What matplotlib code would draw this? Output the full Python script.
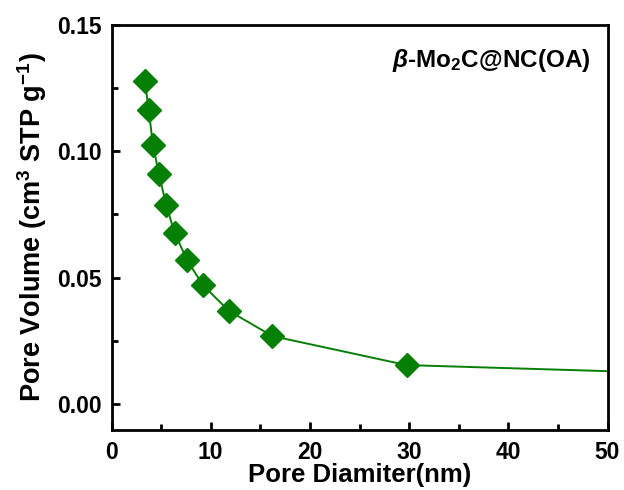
import numpy as np
import matplotlib
matplotlib.use("Agg")
import matplotlib.pyplot as plt
from matplotlib.ticker import MultipleLocator, FormatStrFormatter

plt.rcParams['font.family'] = ['Liberation Sans', 'DejaVu Sans']
plt.rcParams['font.weight'] = 'bold'
plt.rcParams['mathtext.fontset'] = 'custom'
plt.rcParams['mathtext.rm'] = 'Liberation Sans:bold'
plt.rcParams['mathtext.it'] = 'Liberation Sans:bold:italic'
plt.rcParams['mathtext.bf'] = 'Liberation Sans:bold'

# pore size distribution
diameter = [3.36, 3.76, 4.17, 4.78, 5.51, 6.35, 7.63, 9.21, 11.83, 16.2, 29.74, 50.0]
volume = [0.1277, 0.1162, 0.1027, 0.0909, 0.0789, 0.0678, 0.0569, 0.0470, 0.0369, 0.0269, 0.0154, 0.0130]
n_markers = 11

green = '#058005'

fig = plt.figure(figsize=(6.24, 4.9), dpi=100)
ax = fig.add_axes([0.1787, 0.1224, 0.7949, 0.8266])

ax.plot(diameter, volume, '-', color=green, lw=1.4, marker='D', ms=12,
        markevery=list(range(n_markers)), mfc=green, mec=green, clip_on=False)

ax.set_xlim(0, 50)
ax.set_ylim(-0.0103, 0.15)
ax.xaxis.set_major_locator(MultipleLocator(10))
ax.xaxis.set_minor_locator(MultipleLocator(5))
ax.yaxis.set_major_locator(MultipleLocator(0.05))
ax.yaxis.set_minor_locator(MultipleLocator(0.025))
ax.yaxis.set_major_formatter(FormatStrFormatter('%.2f'))

ax.tick_params(which='both', direction='in', top=False, right=False, width=2)
ax.tick_params(which='major', length=6, labelsize=16.5)
ax.tick_params(axis='x', which='major', pad=8)
ax.tick_params(axis='y', which='major', pad=7)
ax.tick_params(which='minor', length=4)
for s in ax.spines.values():
    s.set_linewidth(2)

ax.set_xlabel('Pore Diamiter(nm)', fontsize=18.5, fontweight='bold', labelpad=-1)
ax.set_ylabel(r'Pore Volume (cm$^3$ STP g$^{-1}$)', fontsize=19.5, fontweight='bold', labelpad=6)

ax.text(0.965, 0.913, r'$\it{\beta}$-Mo$_2$C@NC(OA)', transform=ax.transAxes,
        ha='right', va='center', fontsize=17.5, fontweight='bold')

fig.savefig('out.png', dpi=100)
